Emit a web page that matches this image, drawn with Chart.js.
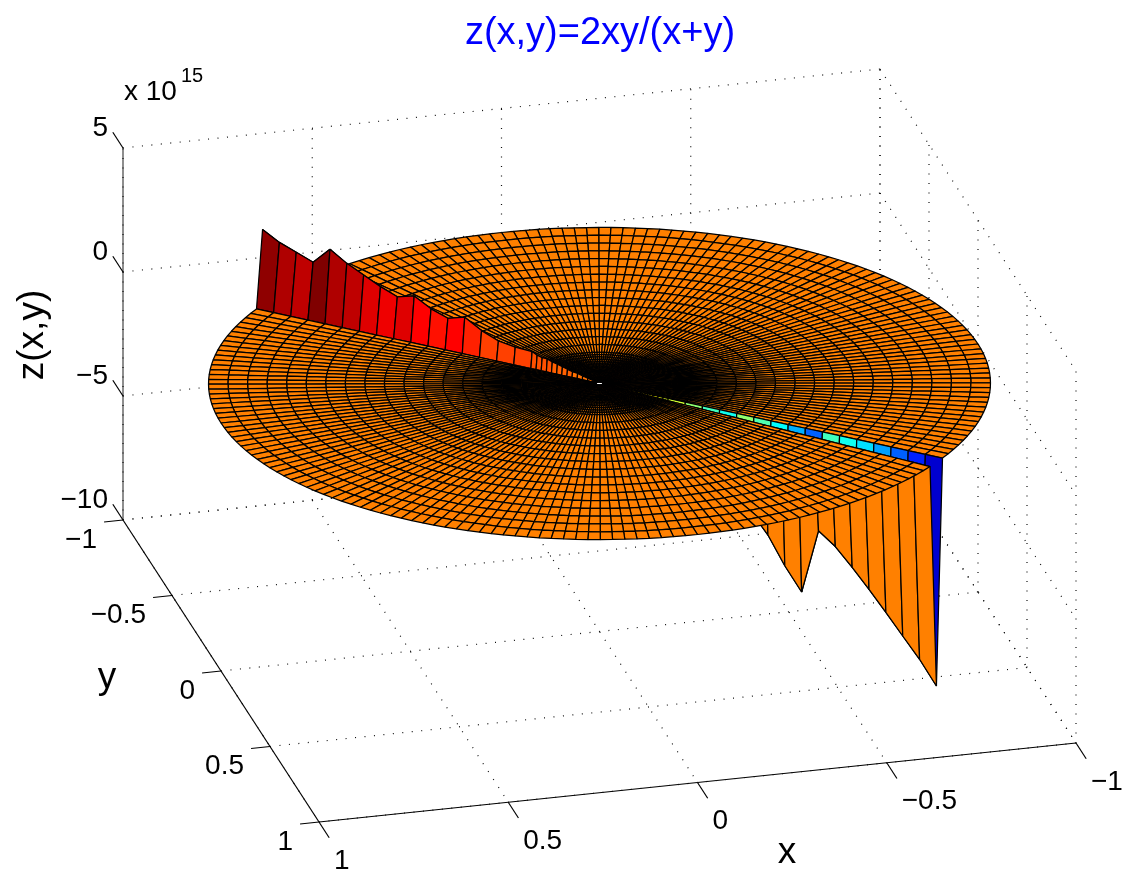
<!DOCTYPE html>
<html>
<head>
<meta charset="utf-8">
<title>z(x,y)=2xy/(x+y)</title>
<script src="https://cdn.jsdelivr.net/npm/chart.js@4/dist/chart.umd.js"></script>
<style>
  html, body { margin: 0; padding: 0; background: #fff; }
  canvas { display: block; }
</style>
</head>
<body>
<canvas id="surfaceChart" width="1124" height="871"></canvas>
<script>
// Axis ticks
const xTicks = [1, 0.5, 0, -0.5, -1];
const yTicks = [-1, -0.5, 0, 0.5, 1];
const zTicks = [5, 0, -5, -10];
const xTickLabels = ['1', '0.5', '0', '\u22120.5', '\u22121'];
const yTickLabels = ['\u22121', '\u22120.5', '0', '0.5', '1'];
const zTickLabels = ['5', '0', '\u22125', '\u221210'];

// Polar mesh: ring radii and spoke angles (degrees)
const ringRadii = [0.009, 0.02, 0.035, 0.05, 0.065, 0.08, 0.095, 0.11, 0.125, 0.14, 0.155, 0.17, 0.185, 0.2,
  0.25, 0.3, 0.35, 0.4, 0.45, 0.5, 0.55, 0.6, 0.65, 0.7, 0.75, 0.8, 0.85, 0.9, 0.95, 1];
const spokeAngles = [
  0, 1.8, 3.6, 5.4, 7.2, 9, 10.8, 12.6, 14.4, 16.2,
  18, 19.8, 21.6, 23.4, 25.2, 27, 28.8, 30.6, 32.4, 34.2,
  36, 37.8, 39.6, 41.4, 43.2, 45, 46.8, 48.6, 50.4, 52.2,
  54, 55.8, 57.6, 59.4, 61.2, 63, 64.8, 66.6, 68.4, 70.2,
  72, 73.8, 75.6, 77.4, 79.2, 81, 82.8, 84.6, 86.4, 88.2,
  90, 91.8, 93.6, 95.4, 97.2, 99, 100.8, 102.6, 104.4, 106.2,
  108, 109.8, 111.6, 113.4, 115.2, 117, 118.8, 120.6, 122.4, 124.2,
  126, 127.8, 129.6, 131.4, 133.2, 135, 136.8, 138.6, 140.4, 142.2,
  144, 145.8, 147.6, 149.4, 151.2, 153, 154.8, 156.6, 158.4, 160.2,
  162, 163.8, 165.6, 167.4, 169.2, 171, 172.8, 174.6, 176.4, 178.2,
  180, 181.8, 183.6, 185.4, 187.2, 189, 190.8, 192.6, 194.4, 196.2,
  198, 199.8, 201.6, 203.4, 205.2, 207, 208.8, 210.6, 212.4, 214.2,
  216, 217.8, 219.6, 221.4, 223.2, 225, 226.8, 228.6, 230.4, 232.2,
  234, 235.8, 237.6, 239.4, 241.2, 243, 244.8, 246.6, 248.4, 250.2,
  252, 253.8, 255.6, 257.4, 259.2, 261, 262.8, 264.6, 266.4, 268.2,
  270, 271.8, 273.6, 275.4, 277.2, 279, 280.8, 282.6, 284.4, 286.2,
  288, 289.8, 291.6, 293.4, 295.2, 297, 298.8, 300.6, 302.4, 304.2,
  306, 307.8, 309.6, 311.4, 313.2, 315, 316.8, 318.6, 320.4, 322.2,
  324, 325.8, 327.6, 329.4, 331.2, 333, 334.8, 336.6, 338.4, 340.2,
  342, 343.8, 345.6, 347.4, 349.2, 351, 352.8, 354.6, 356.4, 358.2
];

// z (in units of 1e15) along the two spokes where x+y is about 0, one value per ring
const upSpokeAngle = 315;
const downSpokeAngle = 135;
const upSpokeZ = [0.015, 0.06, 0.1, 0.15, 0.2, 0.22, 0.27, 0.33, 0.38, 0.42, 0.5, 0.5, 0.55, 0.65,
  0.67, 0.76, 1.02, 1.4, 1.2, 1.42, 1.78, 1.59, 1.84, 2.15, 2.46, 2.87, 2.19, 2.43, 2.67, 3.03];
const downSpokeZ = [-0.05, -0.2, -0.3, -0.4, -0.6, -0.7, -0.85, -1, -1.15, -1.35, -1.5, -1.7, -1.9, -2.2,
  -2.84, -3.75, -4.35, -2.84, -3.74, -4.52, -5.6, -6.5, -3.87, -4.35, -5.03, -5.76, -6.53, -7.32, -8.1, -9.02];

// Axes box projection, in the units of the chart's x and y scales
function project(x, y, z) {
  return {
    x: 599.5 - 378.5 * x + 98 * y,
    y: 383.5 + 39.5 * x + 151 * y - 24.8 * z
  };
}

function surfaceZ(ring, spoke) {
  const angle = spokeAngles[spoke];
  if (angle === upSpokeAngle) return upSpokeZ[ring];
  if (angle === downSpokeAngle) return downSpokeZ[ring];
  return 0;
}

// 64 level jet colormap
const zMin = Math.min(...downSpokeZ);
const zMax = Math.max(...upSpokeZ);
function jet(z) {
  const level = Math.min(63, Math.floor((z - zMin) / (zMax - zMin) * 64));
  const t = (level + 1) / 64;
  const ch = v => Math.round(255 * Math.max(0, Math.min(1, v)));
  const r = ch(Math.min(4 * t - 1.5, 4.5 - 4 * t));
  const g = ch(Math.min(4 * t - 0.5, 3.5 - 4 * t));
  const b = ch(Math.min(4 * t + 0.5, 2.5 - 4 * t));
  return `rgb(${r},${g},${b})`;
}

function meshPoint(ring, spoke) {
  const a = spokeAngles[spoke] * Math.PI / 180;
  const r = ringRadii[ring];
  return project(r * Math.cos(a), r * Math.sin(a), surfaceZ(ring, spoke));
}

// One closed polygon dataset per mesh cell, nearest first because dataset 0 is drawn last
const cells = [];
for (let i = 0; i < ringRadii.length - 1; i++) {
  for (let j = 0; j < spokeAngles.length; j++) {
    const next = (j + 1) % spokeAngles.length;
    const a = (spokeAngles[j] + 0.9) * Math.PI / 180;
    const r = (ringRadii[i] + ringRadii[i + 1]) / 2;
    const first = meshPoint(i, j);
    cells.push({
      depth: 98 * r * Math.cos(a) + 378.5 * r * Math.sin(a),
      dataset: {
        data: [first, meshPoint(i + 1, j), meshPoint(i + 1, next), meshPoint(i, next), first],
        showLine: true,
        fill: 'shape',
        backgroundColor: jet(surfaceZ(i, j)),
        borderColor: '#000',
        borderWidth: 1.25,
        borderJoinStyle: 'bevel',
        borderDash: [5000],
        pointRadius: 0,
        tension: 0
      }
    });
  }
}
cells.sort((p, q) => q.depth - p.depth);

function line3d(from, to, style) {
  return Object.assign({
    data: [project(...from), project(...to)],
    showLine: true,
    fill: false,
    borderColor: '#000',
    borderWidth: 1.2,
    pointRadius: 0
  }, style);
}

// Box frame: dotted grid on the floor and the two back walls, then solid axes
const dotted = { borderDash: [1, 8.5], borderColor: '#111', borderWidth: 1.2 };
const frame = [];
const tickLengthY = 0.104;
const tickLengthX = 0.05;
xTicks.forEach(x => {
  frame.push(line3d([x, -1, -10], [x, 1, -10], dotted));
  frame.push(line3d([x, -1, -10], [x, -1, 5], dotted));
  frame.push(line3d([x, 1, -10], [x, 1 + tickLengthY, -10]));
});
yTicks.forEach(y => {
  frame.push(line3d([1, y, -10], [-1, y, -10], dotted));
  frame.push(line3d([-1, y, -10], [-1, y, 5], dotted));
  frame.push(line3d([1, y, -10], [1 + tickLengthX, y, -10]));
});
zTicks.forEach(z => {
  frame.push(line3d([1, -1, z], [-1, -1, z], dotted));
  frame.push(line3d([-1, -1, z], [-1, 1, z], dotted));
  frame.push(line3d([1, -1, z], [1, -1 - tickLengthY, z]));
});
frame.push(line3d([1, -1, -10], [1, 1, -10]));
frame.push(line3d([1, 1, -10], [-1, 1, -10]));
frame.push(line3d([1, -1, -10], [1, -1, 5], { borderColor: '#444' }));

const labelFont = 'Liberation Sans, Arial, sans-serif';

// Tick labels, axis labels and title go through the same scales as the mesh
const textPlugin = {
  id: 'surfaceText',
  afterDatasetsDraw(chart) {
    const { ctx, scales } = chart;
    const put = (text, px, py, size, align, color) => {
      ctx.font = `${size}px ${labelFont}`;
      ctx.textAlign = align;
      ctx.textBaseline = 'middle';
      ctx.fillStyle = color || '#000';
      ctx.fillText(text, scales.x.getPixelForValue(px), scales.y.getPixelForValue(py));
    };
    ctx.save();
    xTicks.forEach((x, i) => {
      const p = project(x, 1, -10);
      put(xTickLabels[i], p.x + 15, p.y + 39, 28, 'left');
    });
    yTicks.forEach((y, i) => {
      const p = project(1, y, -10);
      put(yTickLabels[i], p.x - 26, p.y + 20, 28, 'right');
    });
    zTicks.forEach((z, i) => {
      const p = project(1, -1, z);
      put(zTickLabels[i], p.x - 15, p.y - 20, 28, 'right');
    });
    put('z(x,y)=2xy/(x+y)', 600, 34, 38, 'center', '#0000ff');
    put('x 10', 124, 92, 28, 'left');
    put('15', 181, 76, 20, 'left');
    put('x', 787, 853, 37, 'center');
    put('y', 107, 678, 37, 'center');
    ctx.translate(scales.x.getPixelForValue(33), scales.y.getPixelForValue(335));
    ctx.rotate(-Math.PI / 2);
    ctx.font = `37px ${labelFont}`;
    ctx.textAlign = 'center';
    ctx.fillStyle = '#000';
    ctx.fillText('z(x,y)', 0, 0);
    ctx.restore();
  }
};

new Chart(document.getElementById('surfaceChart').getContext('2d'), {
  type: 'scatter',
  data: { datasets: cells.map(c => c.dataset).concat(frame) },
  options: {
    responsive: false,
    animation: false,
    events: [],
    layout: { padding: 0 },
    clip: false,
    scales: {
      x: { type: 'linear', min: 0, max: 1124, display: false },
      y: { type: 'linear', min: 0, max: 871, reverse: true, display: false }
    },
    plugins: {
      legend: { display: false },
      tooltip: { enabled: false },
      title: { display: false }
    }
  },
  plugins: [textPlugin]
});
</script>
</body>
</html>
